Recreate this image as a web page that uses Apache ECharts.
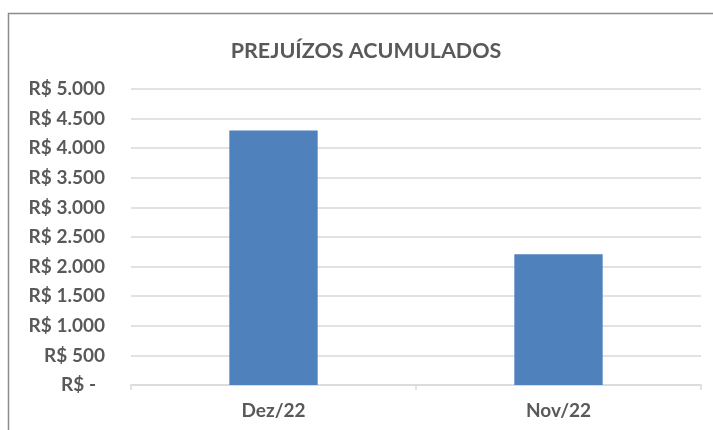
<!DOCTYPE html>
<html>
<head>
<meta charset="utf-8">
<script src="https://cdn.jsdelivr.net/npm/echarts@6/dist/echarts.min.js"></script>
<style>
  html, body { margin: 0; padding: 0; background: #fff; }
  #chart { width: 713px; height: 430px; }
</style>
</head>
<body>
<div id="chart"></div>
<script>
const titleText = 'PREJUÍZOS ACUMULADOS';
const categories = ['Dez/22', 'Nov/22'];
const prejuizos = [4300, 2210];

const textColor = '#595959';
const gridColor = '#d9d9d9';

// formato contábil: zero aparece como "R$ -"
function formatReal(v) {
  if (v === 0) return '{zero|R$ -}';
  return 'R$ ' + String(v).replace(/\B(?=(\d{3})+(?!\d))/g, '.');
}

const chart = echarts.init(document.getElementById('chart'), null, { renderer: 'canvas' });

const option = {
  animation: false,
  title: {
    text: titleText,
    left: 361,
    top: 35,
    textAlign: 'center',
    textStyle: {
      fontFamily: 'Lato',
      fontSize: 21.5,
      fontWeight: 'bold',
      color: textColor
    }
  },
  graphic: [
    {
      type: 'rect',
      shape: { x: 8.5, y: 13.5, width: 900, height: 600 },
      style: { fill: 'none', stroke: '#8c8c8c', lineWidth: 1.5 },
      silent: true
    }
  ],
  grid: {
    left: 131,
    right: 12,
    top: 89,
    bottom: 45,
    containLabel: false
  },
  xAxis: {
    type: 'category',
    data: categories,
    axisLine: { lineStyle: { color: gridColor, width: 1.5 } },
    axisTick: { show: true, length: 5, alignWithLabel: false, lineStyle: { color: gridColor, width: 1.5 } },
    axisLabel: {
      margin: 16,
      fontFamily: 'Lato',
      fontSize: 19,
      fontWeight: 'bold',
      color: textColor
    }
  },
  yAxis: {
    type: 'value',
    min: 0,
    max: 5000,
    interval: 500,
    axisLine: { show: false },
    axisTick: { show: false },
    splitLine: { lineStyle: { color: gridColor, width: 1.5 } },
    axisLabel: {
      margin: 26,
      fontFamily: 'Lato',
      fontSize: 19,
      fontWeight: 'bold',
      color: textColor,
      formatter: formatReal,
      rich: {
        zero: {
          fontFamily: 'Lato',
          fontSize: 19,
          fontWeight: 'bold',
          color: textColor,
          padding: [0, 9, 0, 0]
        }
      }
    }
  },
  series: [
    {
      name: 'Prejuízos',
      type: 'bar',
      data: prejuizos,
      barWidth: '31%',
      itemStyle: { color: '#4f81bd' }
    }
  ]
};

chart.setOption(option);
</script>
</body>
</html>
